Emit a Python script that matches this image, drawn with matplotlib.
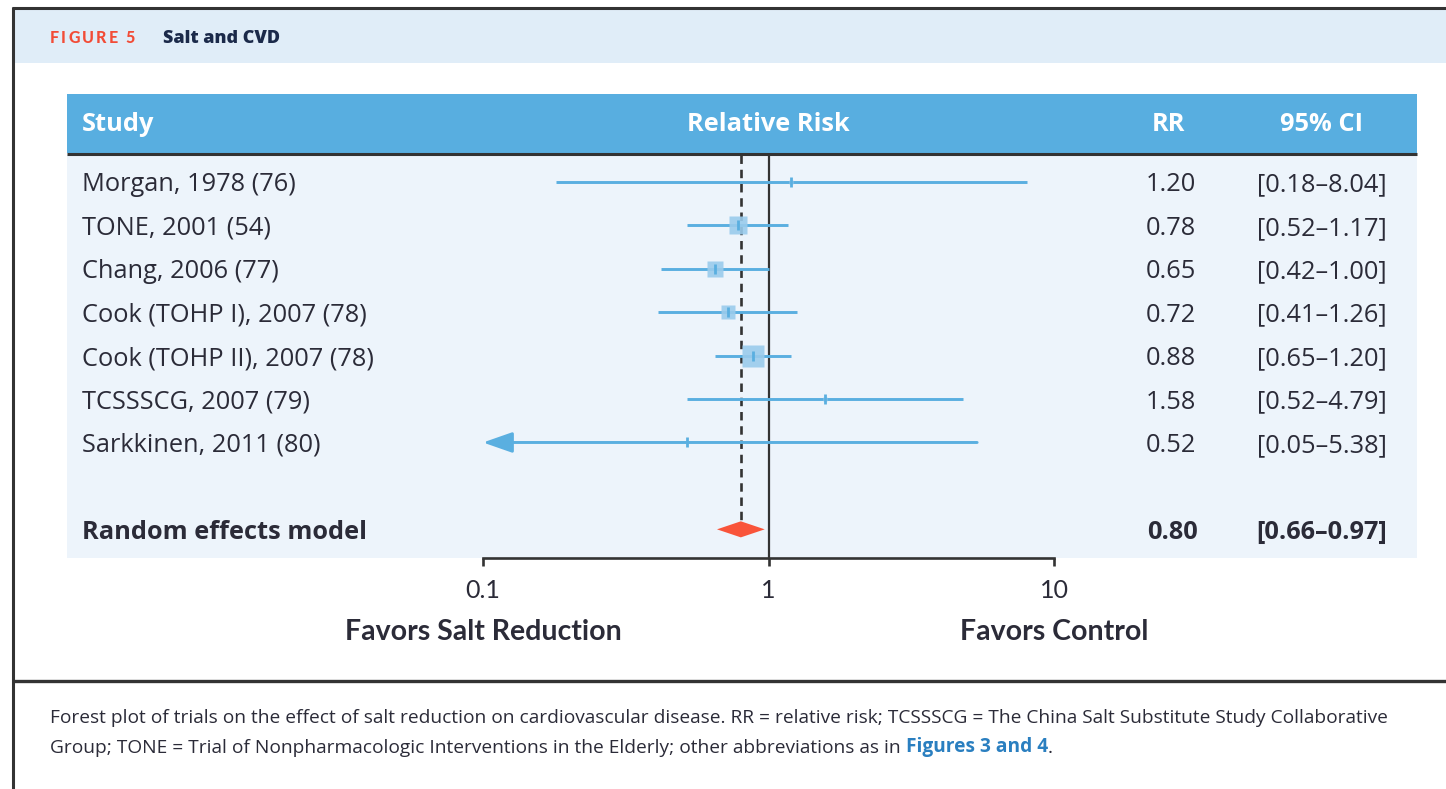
import numpy as np
import matplotlib
matplotlib.use("Agg")
import matplotlib.pyplot as plt
from matplotlib.transforms import blended_transform_factory
from matplotlib.patches import Rectangle, Polygon

# ---- data -------------------------------------------------------------
studies = ["Morgan, 1978 (76)", "TONE, 2001 (54)", "Chang, 2006 (77)",
           "Cook (TOHP I), 2007 (78)", "Cook (TOHP II), 2007 (78)",
           "TCSSSCG, 2007 (79)", "Sarkkinen, 2011 (80)"]
rr = [1.20, 0.78, 0.65, 0.72, 0.88, 1.58, 0.52]
ci_low = [0.18, 0.52, 0.42, 0.41, 0.65, 0.52, 0.05]
ci_high = [8.04, 1.17, 1.00, 1.26, 1.20, 4.79, 5.38]
weight = [1.0, 24.0, 21.0, 16.0, 36.0, 1.5, 0.5]   # relative study weight (%)

pooled_label = "Random effects model"
pooled_rr = 0.80
pooled_low = 0.66
pooled_high = 0.97

x_ticks = [0.1, 1, 10]
x_ticklabels = ["0.1", "1", "10"]
columns = ["Study", "Relative Risk", "RR", "95% CI"]

# ---- style ------------------------------------------------------------
FONT = ["Open Sans", "DejaVu Sans"]
ALT = ["Lato", "DejaVu Sans"]
TXT = "#2b2b38"
BLUE = "#58aee0"
LINE = "#5aafe0"
SQUARE = "#9acbec"
BAND = "#e0edf8"
BODY = "#edf4fb"
RED = "#f9543a"
DARK = "#333333"
FS = 18.3

W, H = 1446, 789
fig = plt.figure(figsize=(W / 100, H / 100), dpi=100)
fig.patch.set_facecolor("white")

# background/page axes in pixel units
bg = fig.add_axes([0, 0, 1, 1])
bg.set_xlim(0, W)
bg.set_ylim(H, 0)
bg.axis("off")

# frame, title band, table header and body
bg.add_patch(Rectangle((14, 9), W - 14, 54, color=BAND, lw=0))
bg.add_patch(Rectangle((67, 94), 1350, 59, color=BLUE, lw=0))
bg.add_patch(Rectangle((67, 155), 1350, 403, color=BODY, lw=0))
bg.plot([67, 1417], [154, 154], color=DARK, lw=2.2, solid_capstyle="butt")
bg.plot([13, 13], [7, H], color=DARK, lw=2.2, solid_capstyle="butt")
bg.plot([12, W], [8, 8], color=DARK, lw=2.2, solid_capstyle="butt")
bg.plot([12, W], [681, 681], color=DARK, lw=2.4, solid_capstyle="butt")

# title: letter-spaced figure number, then the title proper
prev = bg.text(50, 38, "F", color="#f24c37", fontsize=11.5,
               fontweight="black", family=ALT, va="center", ha="left")
for ch in "IGURE 5":
    prev = bg.annotate(ch, xy=(1, 0.5), xycoords=prev, xytext=(1.5, 0),
                       textcoords="offset points", va="center", ha="left",
                       color="#f24c37", fontsize=11.5, fontweight="black",
                       family=ALT)
bg.text(163, 38, "Salt and CVD", color="#1b2a4a", fontsize=13,
        fontweight="heavy", family=FONT, va="center", ha="left")

# ---- forest axes: x from 0.1 (px 483) to 10 (px 1054), rows on y ----
x0, x1 = 483, 1054
ytop, ybot = 155, 558
ax = fig.add_axes([x0 / W, 1 - ybot / H, (x1 - x0) / W, (ybot - ytop) / H])
ax.set_xscale("log")
ax.set_xlim(0.1, 10)
ax.set_ylim(8.66, -0.62)
ax.patch.set_visible(False)
for s in ["top", "left", "right"]:
    ax.spines[s].set_visible(False)
ax.spines["bottom"].set_color(DARK)
ax.spines["bottom"].set_linewidth(1.9)
ax.set_yticks([])
ax.set_xticks(x_ticks)
ax.set_xticklabels(x_ticklabels)
ax.xaxis.set_minor_locator(matplotlib.ticker.NullLocator())
ax.tick_params(axis="x", direction="out", length=6, width=1.9, color=DARK,
               pad=9, labelsize=18, labelcolor=TXT)
for lab in ax.get_xticklabels():
    lab.set_family(ALT)

rows = np.arange(len(studies))
pooled_row = len(studies) + 1

# reference lines
ax.axvline(1, color=DARK, lw=1.6, zorder=2)
ax.plot([pooled_rr, pooled_rr], [-0.62, pooled_row - 0.19], color=DARK,
        lw=1.9, dashes=(3.2, 2.2), zorder=2, clip_on=False)

# study CIs, squares and point ticks
for i in rows:
    lo = max(ci_low[i], 0.1)
    if ci_low[i] < 0.1:
        ax.annotate("", xy=(0.1, i), xytext=(ci_high[i], i),
                    arrowprops=dict(arrowstyle="-|>,head_length=1.2,head_width=0.42",
                                    color=LINE, lw=2.1, shrinkA=0, shrinkB=0,
                                    mutation_scale=15), zorder=3)
    else:
        ax.plot([lo, ci_high[i]], [i, i], color=LINE, lw=2.1,
                solid_capstyle="butt", zorder=3)
    side_px = 3.6 * np.sqrt(weight[i])
    ax.plot(rr[i], i, marker="s", ms=side_px * 0.72, color=SQUARE,
            mec="none", alpha=0.9, zorder=4)
    ax.plot(rr[i], i, marker="|", ms=7.5, mew=2.0, color=LINE, zorder=5)

# pooled diamond
h = 0.185
ax.add_patch(Polygon([(pooled_low, pooled_row), (pooled_rr, pooled_row - h),
                      (pooled_high, pooled_row), (pooled_rr, pooled_row + h)],
                     closed=True, color=RED, lw=0, zorder=5))

# ---- table text ---------------------------------------------------------
tr = blended_transform_factory(bg.transData, ax.transData)
hdr_y = 124
hdr_kw = dict(color="white", fontsize=FS, fontweight="bold", family=FONT,
              va="center")
bg.text(82, hdr_y, columns[0], ha="left", **hdr_kw)
bg.text(768, hdr_y, columns[1], ha="center", **hdr_kw)
bg.text(1168, hdr_y, columns[2], ha="center", **hdr_kw)
bg.text(1322, hdr_y, columns[3], ha="center", **hdr_kw)

row_kw = dict(transform=tr, color=TXT, fontsize=FS, family=FONT,
              va="center_baseline")
for i in rows:
    bg.text(82, i, studies[i], ha="left", **row_kw)
    bg.text(1196, i, f"{rr[i]:.2f}", ha="right", **row_kw)
    bg.text(1322, i, f"[{ci_low[i]:.2f}\u2013{ci_high[i]:.2f}]",
            ha="center", **row_kw)

bg.text(82, pooled_row, pooled_label, ha="left", fontweight="bold", **row_kw)
bg.text(1198, pooled_row, f"{pooled_rr:.2f}", ha="right", fontweight="bold",
        **row_kw)
bg.text(1322, pooled_row, f"[{pooled_low:.2f}\u2013{pooled_high:.2f}]",
        ha="center", fontweight="bold", **row_kw)

# direction labels under the axis
bg.text(483, 632, "Favors Salt Reduction", color=TXT, fontsize=20.5,
        fontweight="bold", family=ALT, va="center", ha="center")
bg.text(1054, 632, "Favors Control", color=TXT, fontsize=20.5,
        fontweight="bold", family=ALT, va="center", ha="center")

# ---- caption ------------------------------------------------------------
CFS = 13.8
cap1 = ("Forest plot of trials on the effect of salt reduction on cardiovascular "
        "disease. RR = relative risk; TCSSSCG = The China Salt Substitute Study "
        "Collaborative")
cap2 = ("Group; TONE = Trial of Nonpharmacologic Interventions in the Elderly; "
        "other abbreviations as in ")
bg.text(50, 723, cap1, color=TXT, fontsize=CFS, family=FONT,
        va="baseline", ha="left")
c2 = bg.text(50, 753, cap2, color=TXT, fontsize=CFS, family=FONT,
             va="baseline", ha="left")
c3 = bg.annotate("Figures 3 and 4", xy=(1, 0), xycoords=c2, va="bottom",
                 ha="left", color="#2a7fc0", fontsize=CFS, fontweight="bold",
                 family=FONT)
bg.annotate(".", xy=(1, 0), xycoords=c3, va="bottom", ha="left", color=TXT,
            fontsize=CFS, family=FONT)

fig.savefig("out.png", dpi=100, facecolor="white")
